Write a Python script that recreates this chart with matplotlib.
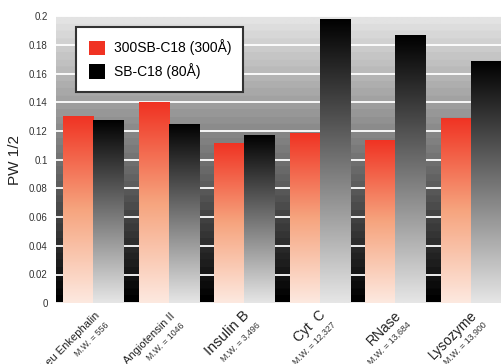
import numpy as np
import matplotlib
matplotlib.use("Agg")
import matplotlib.pyplot as plt
from matplotlib.colors import LinearSegmentedColormap
from matplotlib.patches import Patch

plt.rcParams['font.family'] = ['Liberation Sans', 'DejaVu Sans']

names = ['Leu Enkephalin', 'Angiotensin II', 'Insulin B', 'Cyt  C', 'RNase', 'Lysozyme']
mw_labels = ['M.W. = 556', 'M.W. = 1046', 'M.W. = 3,496', 'M.W. = 12,327',
             'M.W. = 13,684', 'M.W. = 13,900']
name_sizes = [8, 8, 10.5, 10, 10, 10]
pw_300 = [0.1305, 0.140, 0.1116, 0.1186, 0.1137, 0.129]
pw_80 = [0.1277, 0.1249, 0.1172, 0.198, 0.1866, 0.169]
series_labels = ['300SB-C18 (300\u00c5)', 'SB-C18 (80\u00c5)']

red_map = LinearSegmentedColormap.from_list('redfade', ['#fde9e0', '#f6a47e', '#f03222'])
black_map = LinearSegmentedColormap.from_list('blackfade', ['#e6e6e6', '#000000'])
back_map = LinearSegmentedColormap.from_list('backfade', ['#000000', '#e3e3e3'], N=40)

fig = plt.figure(figsize=(5.01, 3.64), dpi=100)
ax = fig.add_axes([56 / 501, 1 - 303.2 / 364, 445 / 501, 287 / 364])

x = np.arange(len(names))
w = 0.397
xlim = (-0.49, 5 + w)
ylim = (0, 0.2)

# grey backdrop fading from black at the bottom
ax.imshow(np.linspace(0, 1, 256).reshape(-1, 1), extent=[xlim[0], xlim[1], 0, 0.2],
          origin='lower', aspect='auto', cmap=back_map, zorder=0)

bars_a = ax.bar(x - w / 2, pw_300, w, color='none', zorder=3)
bars_b = ax.bar(x + w / 2, pw_80, w, color='none', zorder=3)

grad = np.linspace(0, 1, 256).reshape(-1, 1)
for bars, cmap in ((bars_a, red_map), (bars_b, black_map)):
    for p in bars:
        x0, y0 = p.get_x(), p.get_y()
        im = ax.imshow(grad, extent=[x0, x0 + p.get_width(), y0, y0 + p.get_height()],
                       origin='lower', aspect='auto', cmap=cmap, zorder=2)
        im.set_clip_path(p)

ax.set_xlim(*xlim)
ax.set_ylim(*ylim)
ax.set_yticks(np.arange(0, 0.201, 0.02))
ax.set_yticklabels(['0', '0.02', '0.04', '0.06', '0.08', '0.1', '0.12', '0.14',
                    '0.16', '0.18', '0.2'], fontsize=7, color='#333333')
ax.tick_params(axis='y', length=0, pad=6)
ax.set_xticks([])
ax.yaxis.grid(True, color='white', linewidth=1.3, zorder=1)
ax.set_axisbelow(True)
for s in ax.spines.values():
    s.set_visible(False)

ax.set_ylabel('PW 1/2', fontsize=11, color='#222222', labelpad=5)

# two-line rotated category labels
for i in range(len(names)):
    ax.annotate(names[i], xy=(x[i] + 0.12, 0), xycoords=('data', 'axes fraction'),
                xytext=(-0.5, -10.5), textcoords='offset points', rotation=45,
                rotation_mode='anchor', ha='right', va='bottom',
                fontsize=name_sizes[i], color='#222222')
    ax.annotate(mw_labels[i], xy=(x[i] + 0.12, 0), xycoords=('data', 'axes fraction'),
                xytext=(1.5, -12.5), textcoords='offset points', rotation=45,
                rotation_mode='anchor', ha='right', va='top',
                fontsize=6.3, color='#333333')

handles = [Patch(facecolor='#f03222'), Patch(facecolor='black')]
leg = ax.legend(handles, series_labels, loc='upper left',
                bbox_to_anchor=(76 / 501, 1 - 27 / 364), bbox_transform=fig.transFigure,
                borderaxespad=0, fancybox=False, framealpha=1, edgecolor='#333333',
                fontsize=10, handlelength=1.2, handleheight=1.2, handletextpad=0.6,
                borderpad=0.9, labelspacing=0.55)
leg.get_frame().set_linewidth(1.5)
leg.set_zorder(5)

fig.savefig('out.png', dpi=100)
